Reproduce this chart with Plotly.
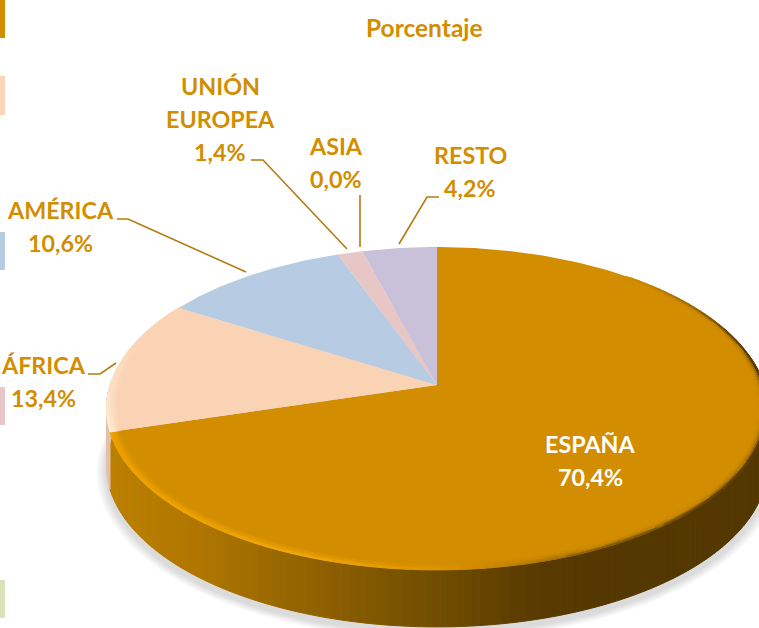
import math
import plotly.graph_objects as go

# ---- data ----
categories = ["ESPAÑA", "ÁFRICA", "AMÉRICA", "UNIÓN EUROPEA", "ASIA", "RESTO"]
values = [70.4, 13.4, 10.6, 1.4, 0.0, 4.2]
title_text = "Porcentaje"
legend_colors = ["#D28D00", "#FBD5B8", "#B7CCE2", "#E9C6C8", "#D8E4BC"]
slice_colors = ["#D28D00", "#FAD3B5", "#B7CCE2", "#E8C6C6", "#D9E4BF", "#C9C0D9"]

# ---- styling / layout ----
W, H = 759, 628
CX, CY, A, B, K = 437, 385, 327, 158, 0.1455
DEPTH = 57
TEXT = "#D28D00"
FONT = "Lato"
FS = 23.3
TITLE_FS = 24.5
LINE = "#B27C12"


def proj(deg, r=1.0, dy=0.0, grow=1.0):
    t = math.radians(deg)
    u, v = r * math.sin(t) * grow, r * math.cos(t) * grow
    d = 1 + K * v
    return CX + A * u / d, CY - B * v / d + dy


def hx(c):
    return tuple(int(c[i:i + 2], 16) for i in (1, 3, 5))


def mix(a, b, t):
    t = max(0.0, min(1.0, t))
    return tuple(a[i] + (b[i] - a[i]) * t for i in range(3))


def ramp(table, x):
    if x <= table[0][0]:
        return hx(table[0][1])
    for (x0, c0), (x1, c1) in zip(table, table[1:]):
        if x <= x1:
            return mix(hx(c0), hx(c1), (x - x0) / (x1 - x0))
    return hx(table[-1][1])


def key(c):
    return "#%02X%02X%02X" % tuple(min(255, int(round(ch / 2) * 2)) for ch in c)


traces = []
groups = {}


def add_poly(color, pts):
    g = groups.setdefault(key(color), ([], []))
    g[0].extend([p[0] for p in pts] + [pts[0][0], None])
    g[1].extend([p[1] for p in pts] + [pts[0][1], None])


def flush():
    for col, (xs, ys) in groups.items():
        traces.append(go.Scatter(x=xs, y=ys, mode="lines", fill="toself", fillcolor=col,
                                 line=dict(color=col, width=1), hoverinfo="skip"))
    groups.clear()


total = sum(values)
edges = [0.0]
for val in values:
    edges.append(edges[-1] + 360.0 * val / total)

# soft shadow
for i in range(9):
    grow = 1.0 + 0.0034 * (i + 1)
    pts = [proj(d, 1.0, DEPTH + 6, grow) for d in range(0, 361, 3)]
    traces.append(go.Scatter(x=[p[0] for p in pts], y=[p[1] for p in pts], mode="lines", fill="toself",
                             fillcolor="rgba(0,0,0,0.014)", line=dict(width=0), hoverinfo="skip"))

# side wall, shaded along x
side_table = [(110, "#BC8000"), (200, "#AF7600"), (300, "#936400"), (440, "#704C00"),
              (530, "#5A3C00"), (580, "#553800"), (760, "#553800")]
STEPS = 150
start, stop = 80.0, edges[1]
for i in range(STEPS):
    d0 = start + (stop - start) * i / STEPS
    d1 = start + (stop - start) * (i + 1) / STEPS
    p0, p1 = proj(d0), proj(d1)
    q1, q0 = proj(d1, 1, DEPTH), proj(d0, 1, DEPTH)
    add_poly(ramp(side_table, (p0[0] + p1[0]) / 2), [p0, p1, q1, q0])
# thin pale wall of the next slice
d = edges[1]
while d < edges[1] + 18:
    add_poly(hx("#E3BFA6"), [proj(d), proj(d + 2), proj(d + 2, 1, DEPTH), proj(d, 1, DEPTH)])
    d += 2
flush()

# top face
for idx, col in enumerate(slice_colors):
    a0, a1 = edges[idx], edges[idx + 1]
    if a1 - a0 <= 0:
        continue
    n = max(2, int((a1 - a0) / 0.5))
    pts = [(CX, CY)] + [proj(a0 + (a1 - a0) * j / n) for j in range(n + 1)]
    traces.append(go.Scatter(x=[p[0] for p in pts] + [pts[0][0]], y=[p[1] for p in pts] + [pts[0][1]],
                             mode="lines", fill="toself", fillcolor=col, line=dict(width=0),
                             hoverinfo="skip"))

# bevel on the rim
rim_table = [(110, "#EFA300"), (300, "#F2A806"), (440, "#DE9500"), (500, "#C68400"),
             (600, "#8A5E00"), (760, "#553800")]
base = hx(slice_colors[0])
RINGS = [0.972, 0.978, 0.984, 0.990, 0.995, 1.0]
N = 130
a0, a1 = 40.0, edges[1]
for i in range(N):
    d0 = a0 + (a1 - a0) * i / N
    d1 = a0 + (a1 - a0) * (i + 1) / N
    fade = min(1.0, (d0 - a0) / 30.0)
    for j in range(len(RINGS) - 1):
        r0, r1 = RINGS[j], RINGS[j + 1]
        pm = proj((d0 + d1) / 2, r1)
        power = 1.0 + 2.2 * min(1.0, max(0.0, (pm[0] - 480) / 150))
        t = ((j + 1) / (len(RINGS) - 1)) ** power * fade
        add_poly(mix(base, ramp(rim_table, pm[0]), t),
                 [proj(d0, r0), proj(d1, r0), proj(d1, r1), proj(d0, r1)])
# cream rim on the neighbouring slice
base2 = hx(slice_colors[1])
cream = hx("#FFEFD6")
a0, a1 = edges[1], edges[2]
for i in range(60):
    d0 = a0 + (a1 - a0) * i / 60
    d1 = a0 + (a1 - a0) * (i + 1) / 60
    fade = max(0.0, 1 - i / 45)
    for j in range(len(RINGS) - 1):
        r0, r1 = RINGS[j], RINGS[j + 1]
        add_poly(mix(base2, cream, (j + 1) / (len(RINGS) - 1) * fade),
                 [proj(d0, r0), proj(d1, r0), proj(d1, r1), proj(d0, r1)])
flush()

# leader lines
leaders = [
    ([117, 128, 246], [219, 219, 272]),
    ([251, 263, 347], [160, 160, 249]),
    ([360, 360], [195, 247]),
    ([439, 427, 399], [197, 197, 244]),
    ([88, 100, 116], [374, 374, 363]),
]
for lx, ly in leaders:
    traces.append(go.Scatter(x=lx, y=ly, mode="lines", line=dict(color=LINE, width=1.6), hoverinfo="skip"))

fig = go.Figure(traces)


def pct(v):
    return f"{v:.1f}".replace(".", ",") + "%"


label_pos = {
    "ESPAÑA": (590, 444, "#FFFFFF"),
    "ÁFRICA": (43, 365, TEXT),
    "AMÉRICA": (60, 210, TEXT),
    "UNIÓN EUROPEA": (220, 86, TEXT),
    "ASIA": (336, 146, TEXT),
    "RESTO": (470, 155, TEXT),
}
anns = [dict(x=424, y=27, text=title_text, showarrow=False, xanchor="center", yanchor="middle",
             font=dict(family=FONT, size=TITLE_FS, color=TEXT, weight="bold"))]
for cat, val in zip(categories, values):
    x, y, col = label_pos[cat]
    lines = cat.split(" ") + [pct(val)]
    for i, ln in enumerate(lines):
        anns.append(dict(x=x, y=y + i * 33, text=ln, showarrow=False, xanchor="center", yanchor="middle",
                         font=dict(family=FONT, size=FS, color=col, weight="bold")))

swatch_rows = [(0, 38), (76, 115), (232, 270), (387, 425), (580, 618)]
shapes = [dict(type="rect", xref="x", yref="y", x0=0, x1=5, y0=y0, y1=y1, fillcolor=c, line=dict(width=0))
          for (y0, y1), c in zip(swatch_rows, legend_colors)]

fig.update_layout(
    width=W, height=H, autosize=False,
    margin=dict(l=0, r=0, t=0, b=0),
    paper_bgcolor="white", plot_bgcolor="white",
    showlegend=False, hovermode=False,
    xaxis=dict(range=[0, W], visible=False, fixedrange=True),
    yaxis=dict(range=[H, 0], visible=False, fixedrange=True),
    annotations=anns, shapes=shapes,
)
fig.write_html("out.html", config=dict(displayModeBar=False),
               post_script="document.body.style.margin='0';document.documentElement.style.overflow='hidden';")
